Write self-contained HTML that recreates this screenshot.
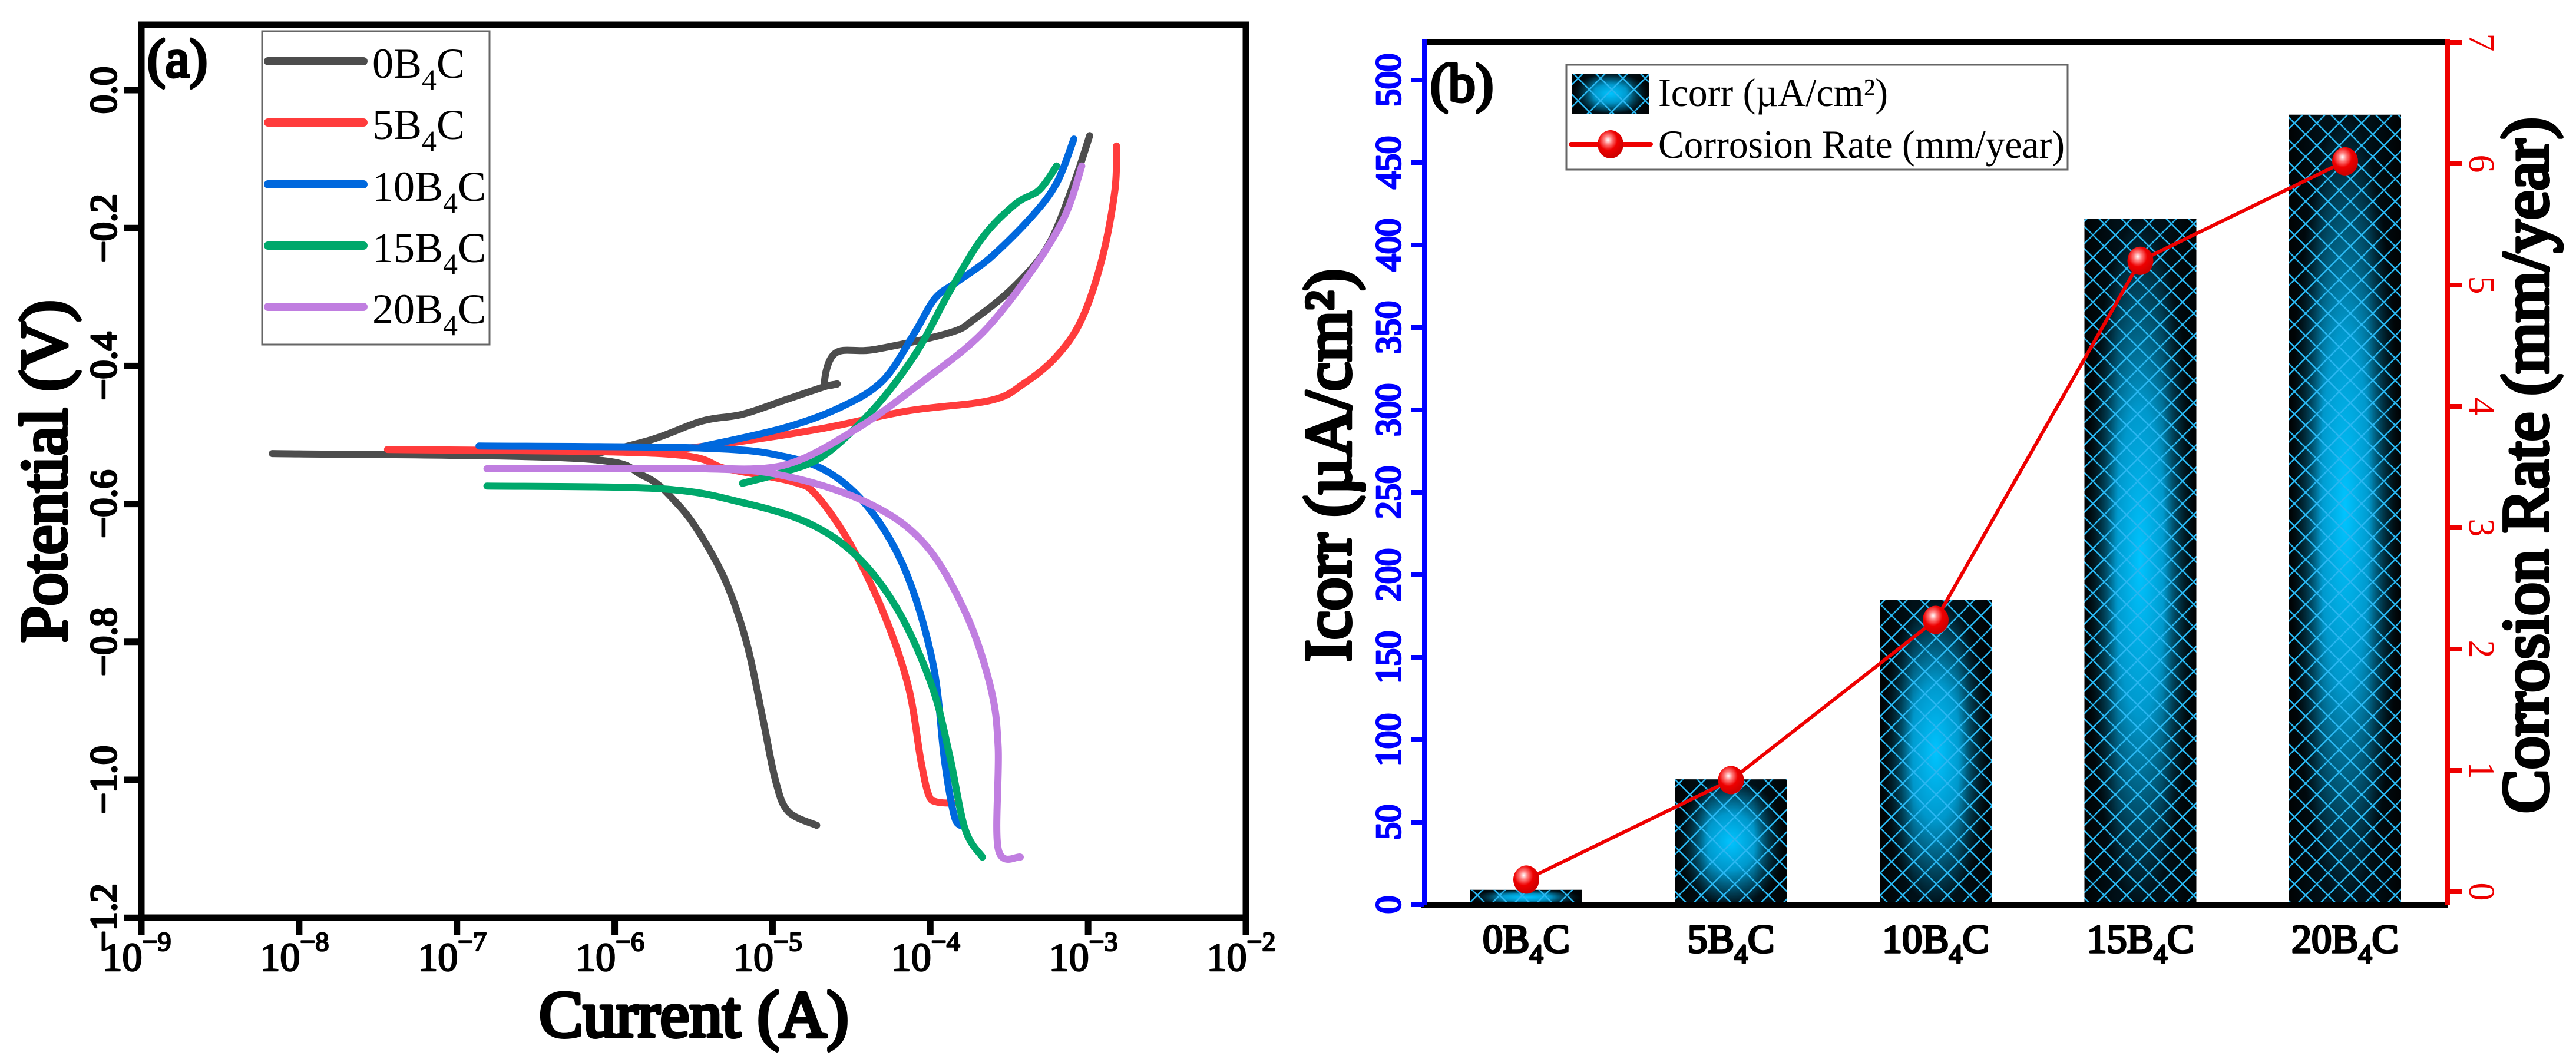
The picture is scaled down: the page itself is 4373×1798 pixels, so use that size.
<!DOCTYPE html>
<html><head><meta charset="utf-8"><style>
html,body{margin:0;padding:0;background:#fff;}
svg{display:block;}
svg text{font-family:"Liberation Serif","Times New Roman","DejaVu Serif",serif;}
</style></head><body>
<svg id="fig" width="4373" height="1798" viewBox="0 0 4373 1798" xmlns="http://www.w3.org/2000/svg">
<defs>
  <radialGradient id="barGlow" cx="0.5" cy="0.5" r="0.5">
    <stop offset="0" stop-color="#00c4ff"/>
    <stop offset="0.45" stop-color="#0098cc"/>
    <stop offset="1" stop-color="#001018"/>
  </radialGradient>
  <linearGradient id="barSide" x1="0" y1="0" x2="1" y2="0">
    <stop offset="0" stop-color="#000" stop-opacity="0.85"/>
    <stop offset="0.3" stop-color="#000" stop-opacity="0"/>
    <stop offset="0.7" stop-color="#000" stop-opacity="0"/>
    <stop offset="1" stop-color="#000" stop-opacity="0.85"/>
  </linearGradient>
  <pattern id="hatch" width="38" height="38" patternUnits="userSpaceOnUse">
    <path d="M0,0 L38,38 M38,0 L0,38" stroke="#29b6f0" stroke-width="2.5" fill="none"/>
  </pattern>
  <radialGradient id="ball" cx="0.4" cy="0.35" r="0.6">
    <stop offset="0" stop-color="#fff"/>
    <stop offset="0.25" stop-color="#ff8080"/>
    <stop offset="0.6" stop-color="#ee0000"/>
    <stop offset="1" stop-color="#d00000"/>
  </radialGradient>
</defs>
<g id="pa"></g>
<g id="pb"></g>
</svg>
<script>
// ---------- Panel (a) data ----------
const seriesNames = ["0B4C","5B4C","10B4C","15B4C","20B4C"];
const seriesColors = ["#4d4d4d","#ff3c3c","#0068dd","#00a86b","#c07ee0"];
const logI0 = [-8.17,-6.24,-5.82,-5.61,-5.45,-5.29,-5.16,-5.06,-4.98,-4.90,-4.72];
const E0    = [-0.527,-0.534,-0.559,-0.598,-0.647,-0.716,-0.805,-0.913,-1.002,-1.046,-1.066];
const logI0a = [-6.24,-5.77,-5.45,-5.19,-4.93,-4.67,-4.59,-4.67,-4.60,-4.35,-3.88,-3.72,-3.46,-3.25,-3.09,-2.99];
const E0a    = [-0.534,-0.507,-0.480,-0.470,-0.450,-0.430,-0.426,-0.425,-0.381,-0.376,-0.352,-0.332,-0.283,-0.224,-0.135,-0.066];
const logI1 = [-7.44,-5.71,-5.29,-4.87,-4.72,-4.51,-4.30,-4.14,-4.06,-4.01,-3.96,-3.85];
const E1    = [-0.521,-0.527,-0.549,-0.568,-0.588,-0.657,-0.756,-0.864,-0.972,-1.022,-1.032,-1.034];
const logI1a = [-5.71,-5.19,-4.67,-4.14,-3.62,-3.41,-3.20,-3.04,-2.91,-2.83,-2.82];
const E1a    = [-0.524,-0.509,-0.490,-0.465,-0.450,-0.426,-0.386,-0.332,-0.243,-0.145,-0.081];
const logI2 = [-6.86,-5.45,-4.93,-4.61,-4.35,-4.14,-3.98,-3.91,-3.85,-3.81];
const E2    = [-0.516,-0.519,-0.531,-0.559,-0.618,-0.707,-0.835,-0.972,-1.051,-1.066];
const logI2a = [-5.45,-4.93,-4.57,-4.30,-4.10,-3.97,-3.83,-3.62,-3.36,-3.20,-3.09];
const E2a    = [-0.517,-0.490,-0.460,-0.421,-0.352,-0.302,-0.278,-0.243,-0.184,-0.135,-0.071];
const logI3 = [-6.81,-5.71,-5.19,-4.77,-4.46,-4.20,-3.99,-3.88,-3.78,-3.67];
const E3    = [-0.574,-0.578,-0.598,-0.628,-0.677,-0.756,-0.864,-0.962,-1.071,-1.112];
const logI3a = [-5.19,-4.93,-4.67,-4.35,-4.09,-3.88,-3.67,-3.46,-3.31,-3.20];
const E3a    = [-0.570,-0.554,-0.529,-0.460,-0.381,-0.293,-0.214,-0.165,-0.145,-0.110];
const logI4 = [-6.81,-5.45,-4.93,-4.40,-4.04,-3.78,-3.62,-3.57,-3.57,-3.43];
const E4    = [-0.549,-0.549,-0.559,-0.598,-0.657,-0.756,-0.864,-0.953,-1.100,-1.112];
const logI4a = [-5.45,-4.93,-4.46,-4.04,-3.67,-3.36,-3.15,-3.04];
const E4a    = [-0.548,-0.544,-0.490,-0.421,-0.352,-0.263,-0.184,-0.110];
const xTickExp = [-9,-8,-7,-6,-5,-4,-3,-2];
const yTickVals = [0.0,-0.2,-0.4,-0.6,-0.8,-1.0,-1.2];
const yTickLabels = ["0.0","\u22120.2","\u22120.4","\u22120.6","\u22120.8","\u22121.0","\u22121.2"];

// ---------- Panel (b) data ----------
const barCats = ["0B4C","5B4C","10B4C","15B4C","20B4C"];
const icorrVals = [9, 76, 185, 416, 479];
const rateVals = [0.1, 0.92, 2.24, 5.2, 6.02];
const leftTicks = [0,50,100,150,200,250,300,350,400,450,500];
const rightTicks = [0,1,2,3,4,5,6,7];

const NS = "http://www.w3.org/2000/svg";
function mk(parent, tag, attrs, text){
  const e = document.createElementNS(NS, tag);
  for (const k in attrs){
    if (k === 'bold') continue;
    e.setAttribute(k, attrs[k]);
  }
  if (attrs.bold){
    e.setAttribute('font-weight','normal');
    e.setAttribute('stroke', attrs.fill || '#000');
    e.setAttribute('stroke-width', attrs.bold);
    e.setAttribute('stroke-linejoin','round');
  }
  if (text !== undefined) e.textContent = text;
  parent.appendChild(e);
  return e;
}
function smoothPath(pts){
  let d = "M" + pts[0][0].toFixed(1) + "," + pts[0][1].toFixed(1);
  for (let i = 0; i < pts.length - 1; i++){
    const p0 = pts[i-1] || pts[i], p1 = pts[i], p2 = pts[i+1], p3 = pts[i+2] || p2;
    const c1 = [p1[0] + (p2[0]-p0[0])/6, p1[1] + (p2[1]-p0[1])/6];
    const c2 = [p2[0] - (p3[0]-p1[0])/6, p2[1] - (p3[1]-p1[1])/6];
    d += " C" + c1[0].toFixed(1)+","+c1[1].toFixed(1)+" "+c2[0].toFixed(1)+","+c2[1].toFixed(1)+" "+p2[0].toFixed(1)+","+p2[1].toFixed(1);
  }
  return d;
}

// ===== Panel A =====
const pa = document.getElementById('pa');
const AX = {l:240, r:2115, t:42, b:1558};
const xA = v => AX.l + (v + 9) / 7 * (AX.r - AX.l);
const yA = v => 153 + (0 - v) / 0.2 * 234.2;

const lineGroups = [[logI0,E0,logI0a,E0a],[logI1,E1,logI1a,E1a],[logI2,E2,logI2a,E2a],[logI3,E3,logI3a,E3a],[logI4,E4,logI4a,E4a]];
lineGroups.forEach((g, i) => {
  [[g[0],g[1]],[g[2],g[3]]].forEach((pair, j) => {
    const pts = pair[0].map((v,k)=> [xA(v), yA(pair[1][k])]);
    const pl = mk(pa, 'path', {d: smoothPath(pts), fill:'none', stroke: seriesColors[i], 'stroke-width': 12, 'stroke-linejoin':'round', 'stroke-linecap':'round'});
    
    
  });
});

const fa = mk(pa, 'rect', {x:AX.l, y:AX.t, width:AX.r-AX.l, height:AX.b-AX.t, fill:'none', stroke:'#000', 'stroke-width':11});



xTickExp.forEach(e => {
  const x = xA(e);
  const t = mk(pa,'line',{x1:x,y1:AX.b,x2:x,y2:AX.b+30,stroke:'#000','stroke-width':11});
  
  
  const lab = mk(pa,'text',{x:x-8,y:1648,'font-size':68,bold:2.5,'text-anchor':'middle'});
  
  
  mk(lab,'tspan',{},'10');
  mk(lab,'tspan',{'font-size':46,dy:-34},'\u2212'+Math.abs(e));
});
yTickVals.forEach((v, i) => {
  const y = yA(v);
  const t = mk(pa,'line',{x1:AX.l-30,y1:y,x2:AX.l,y2:y,stroke:'#000','stroke-width':11});
  
  
  const lab = mk(pa,'text',{x:0,y:0,'font-size':64,bold:3.5,'text-anchor':'middle',transform:`translate(197,${y}) rotate(-90)`}, yTickLabels[i]);
  
  
});
let tt = mk(pa,'text',{x:0,y:0,'font-size':112,bold:6,'text-anchor':'middle',transform:'translate(112,800) rotate(-90)'},'Potential (V)');
 
tt = mk(pa,'text',{x:1178,y:1760,'font-size':112,bold:6,'text-anchor':'middle'},'Current (A)');
 
tt = mk(pa,'text',{x:250,y:130,'font-size':92,bold:5},'(a)');
 

const lg = mk(pa,'g',{});
 
mk(lg,'rect',{x:445,y:53,width:386,height:532,fill:'#fff',stroke:'#666','stroke-width':3});
const legYs = [104,208,313,417,521];
seriesNames.forEach((n,i)=>{
  const ge = mk(lg,'g',{});
   
  mk(ge,'line',{x1:455,y1:legYs[i],x2:617,y2:legYs[i],stroke:seriesColors[i],'stroke-width':14,'stroke-linecap':'round'});
  const tx = mk(ge,'text',{x:632,y:legYs[i]+28,'font-size':72});
  const num = n.replace('B4C','');
  mk(tx,'tspan',{},num+'B');
  mk(tx,'tspan',{'font-size':50,dy:20},'4');
  mk(tx,'tspan',{dy:-20},'C');
});

// ===== Panel B =====
const pb = document.getElementById('pb');
const BX = {l:2418, r:4155, t:72, b:1536};
const yL = v => BX.b - v / 500 * 1400;
const yR = v => 1514 - v * 206;
const barCenters = i => 2591 + i * 347.5;
const barW = 190;

icorrVals.forEach((v,i)=>{
  const cx = barCenters(i), y = yL(v), h = BX.b - y;
  const g = mk(pb,'g',{});
   
  mk(g,'rect',{x:cx-barW/2,y:y,width:barW,height:h,fill:'url(#barGlow)'});
  mk(g,'rect',{x:cx-barW/2,y:y,width:barW,height:h,fill:'url(#barSide)'});
  mk(g,'rect',{x:cx-barW/2,y:y,width:barW,height:h,fill:'url(#hatch)'});
});

const rpts = rateVals.map((v,i)=> barCenters(i)+","+yR(v)).join(" ");
const rl = mk(pb,'polyline',{points:rpts,fill:'none',stroke:'#ee0000','stroke-width':6});
 
rateVals.forEach((v,i)=>{
  const c = mk(pb,'ellipse',{cx:barCenters(i),cy:yR(v),rx:22,ry:24,fill:'url(#ball)'});
   
});

let ax = mk(pb,'line',{x1:BX.l,y1:BX.t,x2:BX.r,y2:BX.t,stroke:'#000','stroke-width':10});
 
ax = mk(pb,'line',{x1:BX.l-5,y1:BX.b,x2:BX.r,y2:BX.b,stroke:'#000','stroke-width':10});
 
ax = mk(pb,'line',{x1:BX.l,y1:BX.t-5,x2:BX.l,y2:BX.b,stroke:'#0000ff','stroke-width':8});
 
ax = mk(pb,'line',{x1:BX.r,y1:BX.t-5,x2:BX.r,y2:BX.b,stroke:'#ee0000','stroke-width':8});
 

leftTicks.forEach(v=>{
  const y = yL(v);
  const t = mk(pb,'line',{x1:BX.l-22,y1:y,x2:BX.l,y2:y,stroke:'#0000ff','stroke-width':8});
   
  const lab = mk(pb,'text',{x:0,y:0,'font-size':60,bold:3.5,fill:'#0000ff','text-anchor':'middle',transform:`translate(2377,${y}) rotate(-90)`},String(v));
   
});
rightTicks.forEach(v=>{
  const y = yR(v);
  const t = mk(pb,'line',{x1:BX.r,y1:y,x2:BX.r+25,y2:y,stroke:'#ee0000','stroke-width':8});
   
  const lab = mk(pb,'text',{x:0,y:0,'font-size':62,fill:'#ee0000','text-anchor':'middle',transform:`translate(4192,${y}) rotate(90)`},String(v));
   
});
barCats.forEach((n,i)=>{
  const tx = mk(pb,'text',{x:barCenters(i),y:1617,'font-size':68,bold:3.5,'text-anchor':'middle'});
   
  mk(tx,'tspan',{},n.replace('B4C','')+'B');
  mk(tx,'tspan',{'font-size':46,dy:18},'4');
  mk(tx,'tspan',{dy:-18},'C');
});
tt = mk(pb,'text',{x:0,y:0,'font-size':112,bold:6,'text-anchor':'middle',transform:'translate(2292,790) rotate(-90)'},'Icorr (\u00b5A/cm\u00b2)');
 
tt = mk(pb,'text',{x:0,y:0,'font-size':112,bold:6,'text-anchor':'middle',transform:'translate(4325,790) rotate(-90)'},'Corrosion Rate (mm/year)');
 
tt = mk(pb,'text',{x:2428,y:172,'font-size':92,bold:5},'(b)');
 

const lb = mk(pb,'g',{});
 
mk(lb,'rect',{x:2659,y:110,width:851,height:178,fill:'#fff',stroke:'#666','stroke-width':3});
mk(lb,'rect',{x:2668,y:125,width:132,height:68,fill:'url(#barGlow)'});
mk(lb,'rect',{x:2668,y:125,width:132,height:68,fill:'url(#barSide)'});
mk(lb,'rect',{x:2668,y:125,width:132,height:68,fill:'url(#hatch)'});
mk(lb,'text',{x:2815,y:180,'font-size':68,textLength:390,lengthAdjust:'spacingAndGlyphs'},'Icorr (\u00b5A/cm\u00b2)');
mk(lb,'line',{x1:2667,y1:245,x2:2802,y2:245,stroke:'#ee0000','stroke-width':8,'stroke-linecap':'round'});
mk(lb,'ellipse',{cx:2734,cy:245,rx:22,ry:24,fill:'url(#ball)'});
mk(lb,'text',{x:2815,y:268,'font-size':68,textLength:690,lengthAdjust:'spacingAndGlyphs'},'Corrosion Rate (mm/year)');
</script>
</body></html>
